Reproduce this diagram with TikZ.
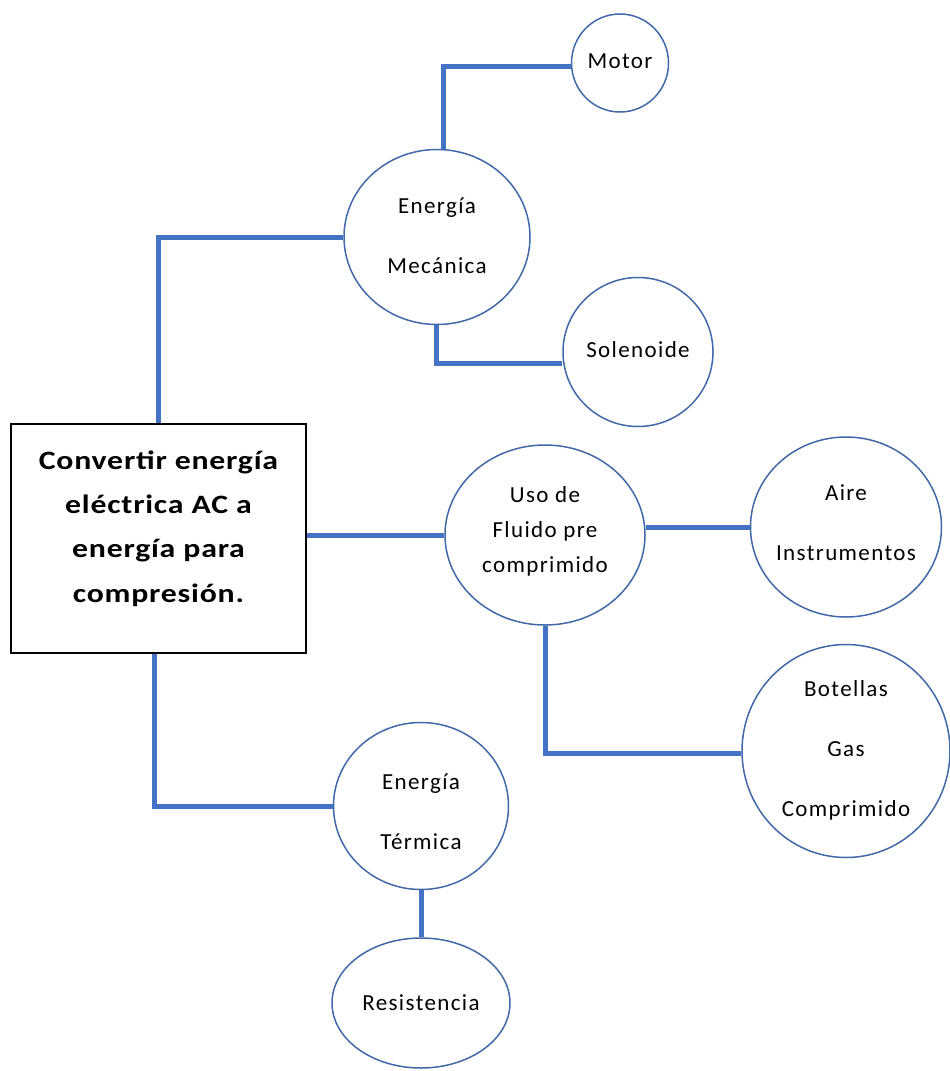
\documentclass[tikz,border=0pt]{standalone}
\usepackage{fontspec}
\setmainfont{Carlito}
\newfontfamily\labelfont[LetterSpace=6]{Carlito}
\newfontfamily\titlefont[FakeStretch=1.2,LetterSpace=3]{Carlito Bold}
\usetikzlibrary{shapes.geometric}
\definecolor{linkblue}{HTML}{4472C4}
\definecolor{rimblue}{HTML}{4169A8}
\tikzset{
  conn/.style={draw=linkblue, line width=5pt},
  bubble/.style={ellipse, draw=rimblue, line width=1.5pt, fill=white, inner sep=0pt},
  bubtext/.style={align=center, font=\labelfont\fontsize{23}{60}\selectfont, text=black},
  maintext/.style={align=center, font=\titlefont\fontsize{26.5}{44.3}\selectfont, text=black},
}
\begin{document}
\begin{tikzpicture}[x=1pt,y=-1pt]
  \useasboundingbox (0,0) rectangle (950,1071);

  % central task box
  \node[draw=black, line width=1.5pt, minimum width=295pt, minimum height=229pt, inner sep=0pt]
    (box) at (158.5,538.5) {};
  \node[maintext] (boxtxt) at (158.5,528.5)
    {Convertir energía\\eléctrica AC a\\energía para\\compresión.};

  % energy branches
  \node[bubble, minimum width=186pt, minimum height=175pt] (mec) at (437,237) {};
  \node[bubble, minimum width=97pt,  minimum height=98pt]  (motor) at (620,63) {};
  \node[bubble, minimum width=150pt, minimum height=149pt] (sol) at (638,352) {};
  \node[bubble, minimum width=200pt, minimum height=180pt] (uso) at (545,535) {};
  \node[bubble, minimum width=191pt, minimum height=180pt] (aire) at (846,527) {};
  \node[bubble, minimum width=208pt, minimum height=213pt] (bot) at (846,751) {};
  \node[bubble, minimum width=175pt, minimum height=167pt] (ter) at (421,806) {};
  \node[bubble, minimum width=178pt, minimum height=130pt] (res) at (421,1003) {};

  % labels
  \node[bubtext] (mectxt) at (437,236) {Energía\\Mecánica};
  \node[bubtext] (motortxt) at (620,61) {Motor};
  \node[bubtext] (soltxt) at (638,350) {Solenoide};
  \node[bubtext, font=\labelfont\fontsize{23}{35}\selectfont] (usotxt) at (545,531) {Uso de\\Fluido pre\\comprimido};
  \node[bubtext] (airetxt) at (846,523) {Aire\\Instrumentos};
  \node[bubtext] (bottxt) at (846,750) {Botellas\\Gas\\Comprimido};
  \node[bubtext] (tertxt) at (421,812) {Energía\\Térmica};
  \node[bubtext] (restxt) at (421,1003) {Resistencia};

  % connectors
  \draw[conn] (box.north) |- (mec.west);
  \draw[conn] ([xshift=6pt]mec.north) |- ([yshift=-3pt]motor.west);
  \draw[conn] ([xshift=-1pt]mec.south) |- ([yshift=-11pt]sol.west);
  \draw[conn] (box.east |- uso.west) -- (uso.west);
  \draw[conn] (aire.west -| uso.east) -- (aire.west);
  \draw[conn] (uso.south) |- ([yshift=-2pt]bot.west);
  \draw[conn] ([xshift=-4pt]box.south) |- (ter.west);
  \draw[conn] (ter.south) -- (res.north);
\end{tikzpicture}
\end{document}
